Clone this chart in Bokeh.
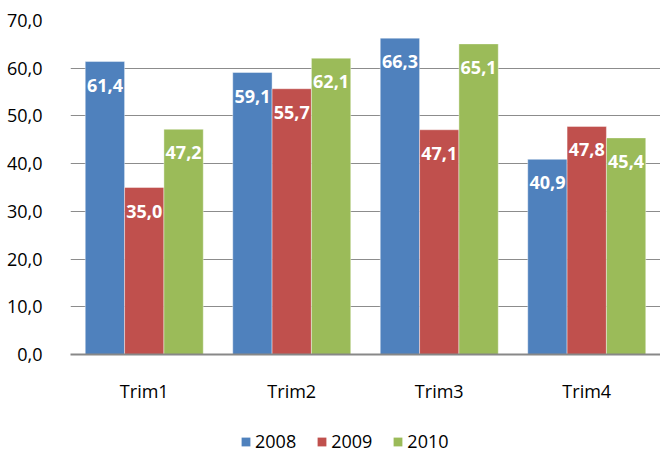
from bokeh.plotting import figure
from bokeh.models import ColumnDataSource, FactorRange, Range1d, Legend, LegendItem
from bokeh.layouts import column
from bokeh.transform import dodge
from bokeh.core.properties import value
from bokeh.embed import file_html
from bokeh.resources import INLINE

categories = ["Trim1", "Trim2", "Trim3", "Trim4"]
series_names = ["2008", "2009", "2010"]
v2008 = [61.4, 59.1, 66.3, 40.9]
v2009 = [35.0, 55.7, 47.1, 47.8]
v2010 = [47.2, 62.1, 65.1, 45.4]
y_ticks = [0, 10, 20, 30, 40, 50, 60, 70]
colors = ["#4F81BD", "#C0504D", "#9BBB59"]

FONT = "Open Sans"

def fmt(v):
    return f"{v:.1f}".replace(".", ",")

data = {"cat": categories}
for name, vals in zip(series_names, [v2008, v2009, v2010]):
    data["v" + name] = vals
    data["l" + name] = [fmt(v) for v in vals]
source = ColumnDataSource(data)

p = figure(width=660, height=420, x_range=FactorRange(*categories),
           y_range=Range1d(0, 70), output_backend="svg", toolbar_location=None)
p.min_border_left = 70
p.min_border_right = 0
p.min_border_top = 20
p.min_border_bottom = 66
p.outline_line_color = None

bw = 0.8 / 3
offsets = [-bw, 0, bw]
for name, col, off in zip(series_names, colors, offsets):
    p.vbar(x=dodge("cat", off, range=p.x_range), top="v" + name, width=bw,
           source=source, fill_color=col, line_color="white", line_alpha=0.5,
           line_width=0.8)
    p.text(x=dodge("cat", off, range=p.x_range), y="v" + name, text="l" + name,
           source=source, text_color="white", text_font=value(FONT),
           text_font_style="bold", text_font_size="18px", text_align="center",
           text_baseline="top", y_offset=17)

p.xgrid.grid_line_color = None
p.ygrid.grid_line_color = "#8c8c8c"
p.ygrid.grid_line_width = 1
p.yaxis.ticker = y_ticks
p.yaxis.major_label_overrides = {t: fmt(t) for t in y_ticks}
p.yaxis.axis_line_color = None
p.yaxis.major_tick_line_color = None
p.yaxis.minor_tick_line_color = None
p.yaxis.major_label_text_font = FONT
p.yaxis.major_label_text_font_size = "18px"
p.yaxis.major_label_text_color = "black"
p.yaxis.major_label_standoff = 22

p.xaxis.axis_line_color = "#888888"
p.xaxis.axis_line_width = 2
p.xaxis.major_tick_line_color = None
p.xaxis.minor_tick_line_color = None
p.xaxis.major_label_text_font = FONT
p.xaxis.major_label_text_font_size = "18px"
p.xaxis.major_label_text_color = "black"
p.xaxis.major_label_standoff = 18

# legend strip below the chart (legend swatches only; their glyphs lie outside the view)
lf = figure(width=660, height=33, output_backend="svg", toolbar_location=None,
            min_border=0, x_range=Range1d(0, 1), y_range=Range1d(0, 1))
lf.axis.visible = False
lf.grid.grid_line_color = None
lf.outline_line_color = None
items = []
for name, col in zip(series_names, colors):
    r = lf.vbar(x=[-10], top=[-10], width=1, fill_color=col, line_color=None)
    items.append(LegendItem(label=name, renderers=[r]))
legend = Legend(items=items, orientation="horizontal", location=(170, 0),
                label_text_font=FONT, label_text_font_size="18px",
                label_text_color="black",
                glyph_width=11, glyph_height=11, label_standoff=4, spacing=20,
                border_line_color=None, background_fill_alpha=0,
                margin=0, padding=0)
lf.add_layout(legend, "center")

layout = column(p, lf, spacing=0)
open("out.html", "w").write(file_html(layout, INLINE))
